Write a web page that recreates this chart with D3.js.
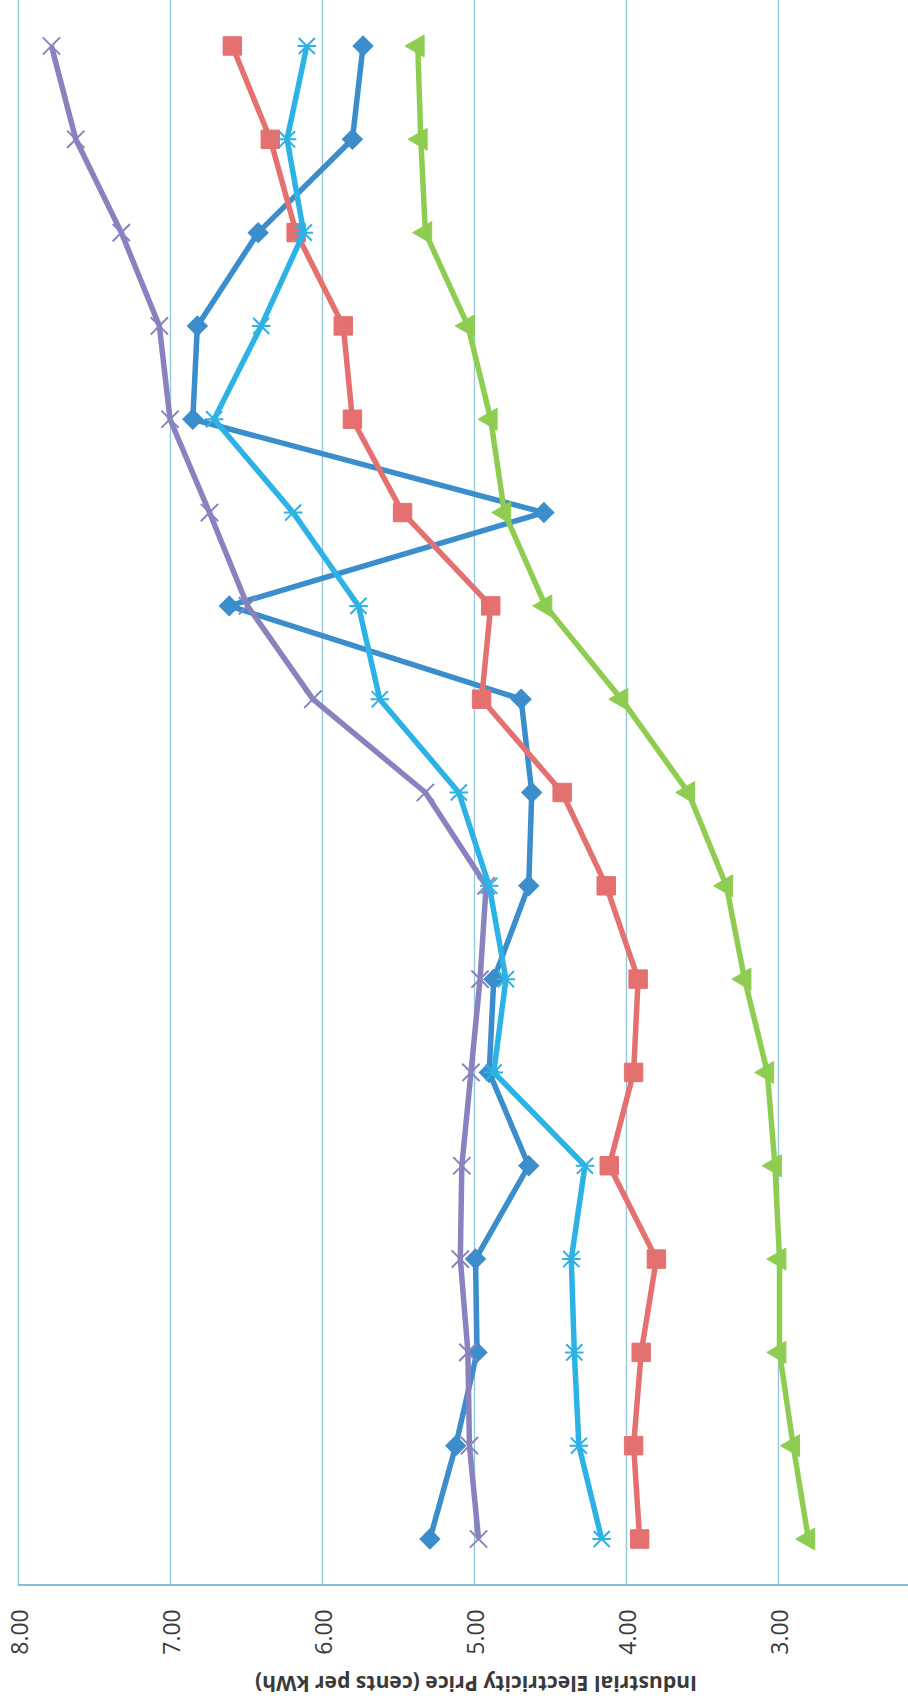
<!DOCTYPE html>
<html>
<head>
<meta charset="utf-8">
<script src="https://cdn.jsdelivr.net/npm/d3@7"></script>
<style>
  html, body { margin: 0; padding: 0; background: #ffffff; }
  svg { display: block; }
</style>
</head>
<body>
<svg id="chart" width="908" height="1702"></svg>
<script>
// Periods, listed from the first (bottom of the page) to the last (top).
const categories = ["1","2","3","4","5","6","7","8","9","10","11","12","13","14","15","16","17"];

// Industrial electricity price, cents per kWh, one value per period.
const series1 = [5.29, 5.12, 4.98, 4.99, 4.64, 4.90, 4.87, 4.64, 4.62, 4.69, 6.61, 4.54, 6.85, 6.82, 6.42, 5.80, 5.73];
const series2 = [3.91, 3.95, 3.90, 3.80, 4.11, 3.95, 3.92, 4.13, 4.42, 4.95, 4.89, 5.47, 5.80, 5.86, 6.17, 6.34, 6.59];
const series3 = [2.80, 2.90, 2.99, 2.99, 3.02, 3.07, 3.22, 3.34, 3.59, 4.03, 4.53, 4.80, 4.89, 5.04, 5.32, 5.35, 5.37];
const series4 = [4.97, 5.03, 5.04, 5.09, 5.08, 5.02, 4.96, 4.92, 5.32, 6.06, 6.49, 6.74, 7.00, 7.07, 7.32, 7.62, 7.78];
const series5 = [4.16, 4.31, 4.34, 4.36, 4.27, 4.87, 4.79, 4.90, 5.10, 5.62, 5.76, 6.19, 6.71, 6.40, 6.12, 6.23, 6.10];

// Value axis ticks and title.
const tickValues = [8, 7, 6, 5, 4, 3];
const axisTitle = "Industrial Electricity Price (cents per kWh)";

const W = 908, H = 1702;
const svg = d3.select("#chart");

// The chart lies on its side: prices run left (high) to right (low),
// periods run bottom (first) to top (last).
const baseY = 1585;
const x = d3.scaleLinear().domain([8, 3]).range([18, 778]);
const y = d3.scalePoint().domain(categories).range([1539, 46]);

// Vertical gridlines, one per tick.
const grid = svg.append("g")
  .attr("transform", `translate(0,${baseY})`)
  .call(d3.axisBottom(x).tickValues(tickValues).tickSize(-baseY).tickFormat(""));
grid.select(".domain").remove();
grid.selectAll(".tick line").attr("stroke", "#98c7dc").attr("stroke-width", 1.4);

// Value axis line along the bottom.
svg.append("line")
  .attr("x1", x(8)).attr("x2", W)
  .attr("y1", baseY).attr("y2", baseY)
  .attr("stroke", "#86bdd6").attr("stroke-width", 2.2);

// Tick labels, turned to read upward.
const axis = svg.append("g")
  .attr("transform", `translate(0,${baseY})`)
  .call(d3.axisBottom(x).tickValues(tickValues).tickSize(0).tickFormat(d3.format(".2f")));
axis.select(".domain").remove();
axis.selectAll(".tick text")
  .attr("y", 0).attr("dy", null)
  .attr("transform", "translate(0,47) rotate(-90)")
  .attr("text-anchor", "middle")
  .attr("dominant-baseline", "central")
  .attr("font-family", "'Open Sans', 'Noto Sans', sans-serif")
  .attr("font-size", 23)
  .attr("fill", "#3a3a3a");

// Axis title, upside down.
svg.append("text")
  .attr("transform", "translate(476,1685) rotate(180)")
  .attr("text-anchor", "middle")
  .attr("dominant-baseline", "central")
  .attr("font-family", "'Open Sans', 'Noto Sans', sans-serif")
  .attr("font-weight", "bold")
  .attr("font-size", 22)
  .attr("textLength", 442)
  .attr("lengthAdjust", "spacingAndGlyphs")
  .attr("fill", "#3a3a3a")
  .text(axisTitle);

// Custom marker shapes.
const symX = {
  draw(ctx, size) {
    const r = Math.sqrt(size) / 2;
    ctx.moveTo(-r, -r); ctx.lineTo(r, r);
    ctx.moveTo(-r, r); ctx.lineTo(r, -r);
  }
};
const symStar = {
  draw(ctx, size) {
    const r = Math.sqrt(size) / 2;
    ctx.moveTo(-r, -r); ctx.lineTo(r, r);
    ctx.moveTo(-r, r); ctx.lineTo(r, -r);
    ctx.moveTo(-r * 1.15, 0); ctx.lineTo(r * 1.15, 0);
  }
};

const seriesList = [
  { name: "Series 1", values: series1, color: "#3b8dcb", type: d3.symbolSquare, size: 200, rotate: 45, fill: true },
  { name: "Series 2", values: series2, color: "#e4716f", type: d3.symbolSquare, size: 340, rotate: 0, fill: true },
  { name: "Series 3", values: series3, color: "#8fcd52", type: d3.symbolTriangle, size: 210, rotate: -90, fill: true },
  { name: "Series 4", values: series4, color: "#8883bf", type: symX, size: 300, rotate: 0, fill: false },
  { name: "Series 5", values: series5, color: "#2db2e5", type: symStar, size: 260, rotate: 0, fill: false }
];

const line = d3.line()
  .x(d => x(d.v))
  .y(d => y(d.c));

seriesList.forEach(s => {
  const pts = s.values.map((v, i) => ({ c: categories[i], v }));
  const g = svg.append("g").attr("class", "series");
  g.append("path")
    .datum(pts)
    .attr("d", line)
    .attr("fill", "none")
    .attr("stroke", s.color)
    .attr("stroke-width", 5.5)
    .attr("stroke-linejoin", "round");
  g.selectAll("path.marker")
    .data(pts)
    .join("path")
    .attr("class", "marker")
    .attr("d", d3.symbol().type(s.type).size(s.size))
    .attr("transform", d => `translate(${x(d.v)},${y(d.c)}) rotate(${s.rotate})`)
    .attr("fill", s.fill ? s.color : "none")
    .attr("stroke", s.color)
    .attr("stroke-width", s.fill ? 1 : 2);
});
</script>
</body>
</html>
